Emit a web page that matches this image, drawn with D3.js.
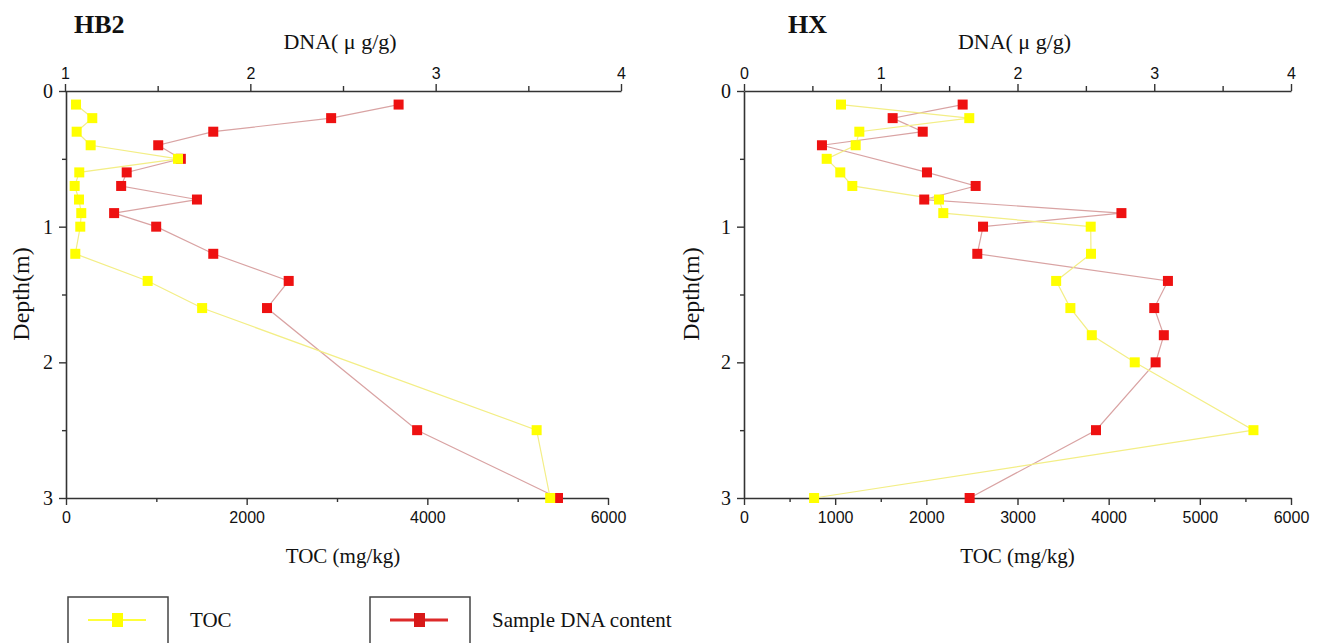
<!DOCTYPE html>
<html>
<head>
<meta charset="utf-8">
<script src="https://cdn.jsdelivr.net/npm/d3@7"></script>
<style>
  body { margin: 0; background: #fff; }
  .tick text { font-family: "Liberation Sans", Arial, sans-serif; font-size: 16px; fill: #111; }
  .yax .tick text { font-family: "Liberation Serif", "Times New Roman", serif; font-size: 20px; }
  .serif { font-family: "Liberation Serif", "Times New Roman", serif; fill: #111; }
</style>
</head>
<body>
<svg id="chart" width="1322" height="643"></svg>
<script>
// HB2 core: depths (m), TOC (mg/kg), DNA (ug/g)
const depthHB2 = [0.1, 0.2, 0.3, 0.4, 0.5, 0.6, 0.7, 0.8, 0.9, 1.0, 1.2, 1.4, 1.6, 2.5, 3.0];
const tocHB2 = [111, 291, 118, 273, 1240, 147, 96, 144, 169, 158, 103, 904, 1507, 5210, 5360];
const dnaHB2 = [2.80, 2.436, 1.80, 1.503, 1.625, 1.333, 1.303, 1.712, 1.265, 1.492, 1.80, 2.207, 2.09, 2.90, 3.66];

// HX core (no DNA sample at 0.5 m)
const depthHXToc = [0.1, 0.2, 0.3, 0.4, 0.5, 0.6, 0.7, 0.8, 0.9, 1.0, 1.2, 1.4, 1.6, 1.8, 2.0, 2.5, 3.0];
const tocHX = [1064, 2471, 1265, 1225, 907, 1056, 1188, 2139, 2186, 3803, 3806, 3424, 3580, 3815, 4286, 5588, 769];
const depthHXDna = [0.1, 0.2, 0.3, 0.4, 0.6, 0.7, 0.8, 0.9, 1.0, 1.2, 1.4, 1.6, 1.8, 2.0, 2.5, 3.0];
const dnaHX = [1.599, 1.087, 1.307, 0.570, 1.338, 1.694, 1.318, 2.76, 1.748, 1.706, 3.10, 3.0, 3.07, 3.01, 2.574, 1.65];

const yMajor = [0, 1, 2, 3];
const yMinor = [0.5, 1.5, 2.5];

const YELLOW = "#ffff00", RED = "#ee1111";
const YELLOW_LINE = "#f3ee86", RED_LINE = "#d9a3a3";

const svg = d3.select("#chart");

const panels = [
    {
        title: "HB2", titleX: 74,
        bottom: [66, 608], top: [65, 621],
        dnaDomain: [1, 4], dnaMajor: [1, 2, 3, 4], dnaMinor: [1.5, 2.5, 3.5],
        tocMajor: [0, 2000, 4000, 6000], tocMinor: [1000, 3000, 5000],
        yLabelX: 29,
        toc: depthHB2.map((d, i) => ({ depth: d, v: tocHB2[i] })),
        dna: depthHB2.map((d, i) => ({ depth: d, v: dnaHB2[i] }))
    },
    {
        title: "HX", titleX: 788,
        bottom: [744, 1291], top: [744, 1291],
        dnaDomain: [0, 4], dnaMajor: [0, 1, 2, 3, 4], dnaMinor: [0.5, 1.5, 2.5, 3.5],
        tocMajor: [0, 1000, 2000, 3000, 4000, 5000, 6000], tocMinor: [500, 1500, 2500, 3500, 4500, 5500],
        yLabelX: 699,
        toc: depthHXToc.map((d, i) => ({ depth: d, v: tocHX[i] })),
        dna: depthHXDna.map((d, i) => ({ depth: d, v: dnaHX[i] }))
    }
];

panels.forEach(drawPanel);

function styleAxis(g) {
    g.selectAll("path.domain").attr("stroke", "#333").attr("stroke-width", 1.6);
    g.selectAll(".tick line").attr("stroke", "#333").attr("stroke-width", 1.4);
}

function drawPanel(p) {
    const y = d3.scaleLinear().domain([0, 3]).range([91, 498]);
    const xToc = d3.scaleLinear().domain([0, 6000]).range(p.bottom);
    const xDna = d3.scaleLinear().domain(p.dnaDomain).range(p.top);
    const g = svg.append("g");

    // left depth axis
    const yAx = g.append("g").attr("class", "yax").attr("transform", `translate(${p.bottom[0]},0)`);
    yAx.call(d3.axisLeft(y).tickValues(yMajor).tickSize(7).tickSizeOuter(0).tickPadding(6).tickFormat(d3.format("d")));
    yAx.append("g").call(d3.axisLeft(y).tickValues(yMinor).tickSize(4).tickSizeOuter(0).tickFormat(""))
        .select("path.domain").remove();
    styleAxis(yAx);

    // bottom TOC axis
    const bAx = g.append("g").attr("transform", "translate(0,498)");
    bAx.call(d3.axisBottom(xToc).tickValues(p.tocMajor).tickSize(7).tickSizeOuter(0).tickPadding(7).tickFormat(d3.format("d")));
    bAx.append("g").call(d3.axisBottom(xToc).tickValues(p.tocMinor).tickSize(4).tickSizeOuter(0).tickFormat(""))
        .select("path.domain").remove();
    styleAxis(bAx);

    // top DNA axis
    const tAx = g.append("g").attr("transform", "translate(0,91)");
    tAx.call(d3.axisTop(xDna).tickValues(p.dnaMajor).tickSize(7).tickSizeOuter(0).tickPadding(5).tickFormat(d3.format("d")));
    tAx.append("g").call(d3.axisTop(xDna).tickValues(p.dnaMinor).tickSize(5).tickSizeOuter(0).tickFormat(""))
        .select("path.domain").remove();
    styleAxis(tAx);

    // titles and labels
    g.append("text").attr("class", "serif").attr("x", p.titleX).attr("y", 33)
        .attr("font-size", 26).attr("font-weight", "bold").text(p.title);
    const midTop = (p.top[0] + p.top[1]) / 2 - 3;
    g.append("text").attr("class", "serif").attr("x", midTop).attr("y", 49)
        .attr("text-anchor", "middle").attr("font-size", 22).text("DNA( μ g/g)");
    const midBot = (p.bottom[0] + p.bottom[1]) / 2 + (p.title === "HB2" ? 6 : 0);
    g.append("text").attr("class", "serif").attr("x", midBot).attr("y", 563)
        .attr("text-anchor", "middle").attr("font-size", 21).text("TOC (mg/kg)");
    g.append("text").attr("class", "serif")
        .attr("transform", `translate(${p.yLabelX},294) rotate(-90)`)
        .attr("text-anchor", "middle").attr("font-size", 24).text("Depth(m)");

    // lines
    const tocLine = d3.line().x(d => xToc(d.v)).y(d => y(d.depth));
    const dnaLine = d3.line().x(d => xDna(d.v)).y(d => y(d.depth));
    g.append("path").datum(p.dna).attr("d", dnaLine).attr("fill", "none")
        .attr("stroke", RED_LINE).attr("stroke-width", 1.2);
    g.append("path").datum(p.toc).attr("d", tocLine).attr("fill", "none")
        .attr("stroke", YELLOW_LINE).attr("stroke-width", 1.2);

    // markers
    const s = 10;
    g.selectAll("rect.dna").data(p.dna).join("rect").attr("class", "dna")
        .attr("x", d => xDna(d.v) - s / 2).attr("y", d => y(d.depth) - s / 2)
        .attr("width", s).attr("height", s).attr("fill", RED);
    g.selectAll("rect.toc").data(p.toc).join("rect").attr("class", "toc")
        .attr("x", d => xToc(d.v) - s / 2).attr("y", d => y(d.depth) - s / 2)
        .attr("width", s).attr("height", s).attr("fill", YELLOW);
}

// legend
const legendItems = [
    { x: 68, label: "TOC", line: "#ffff3a", lw: 2, fill: YELLOW },
    { x: 370, label: "Sample DNA content", line: "#dd2a2a", lw: 3, fill: "#d81818" }
];
const lg = svg.append("g");
legendItems.forEach(it => {
    lg.append("rect").attr("x", it.x).attr("y", 597).attr("width", 100).attr("height", 60)
        .attr("fill", "none").attr("stroke", "#444").attr("stroke-width", 1.5);
    lg.append("line").attr("x1", it.x + 20).attr("x2", it.x + 78).attr("y1", 620).attr("y2", 620)
        .attr("stroke", it.line).attr("stroke-width", it.lw);
    lg.append("rect").attr("x", it.x + 44).attr("y", 613).attr("width", 11).attr("height", 14)
        .attr("fill", it.fill);
    lg.append("text").attr("class", "serif").attr("x", it.x + 122).attr("y", 627)
        .attr("font-size", 21).text(it.label);
});
</script>
</body>
</html>
